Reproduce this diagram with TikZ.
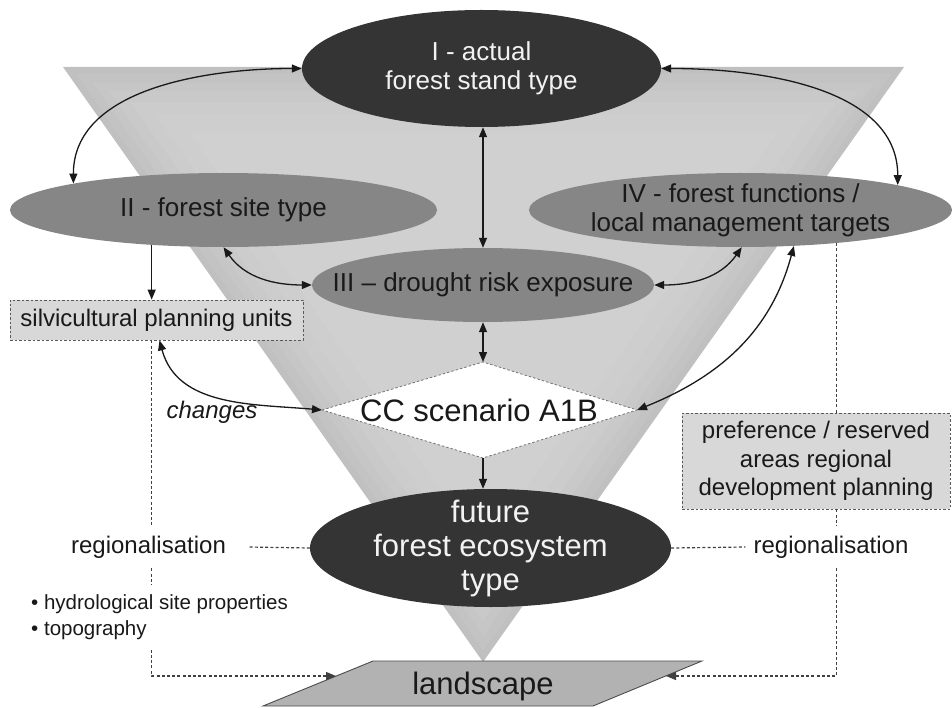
\documentclass[tikz,border=0pt]{standalone}
\usepackage{fontspec}
\setmainfont{Liberation Sans}
\usetikzlibrary{arrows.meta,shapes.geometric,calc}

\definecolor{trigray}{RGB}{192,192,192}
\definecolor{darkell}{RGB}{52,52,52}
\definecolor{midell}{RGB}{134,134,134}
\definecolor{boxgray}{RGB}{216,216,216}
\definecolor{landgray}{RGB}{178,178,178}
\definecolor{ink}{RGB}{25,25,25}
\definecolor{lightink}{RGB}{242,242,242}

\tikzset{
  darkellipse/.style={ellipse, fill=darkell, draw=none, inner sep=0pt},
  midellipse/.style={ellipse, fill=midell, draw=none, inner sep=0pt},
  whitetext/.style={text=lightink, align=center},
  blacktext/.style={text=ink, align=center},
  bigfont/.style={font=\fontsize{26}{29}\selectfont},
  hugefont/.style={font=\fontsize{31}{34}\selectfont},
  smallfont/.style={font=\fontsize{24}{28.5}\selectfont},
  dashbox/.style={rectangle, fill=boxgray, draw=black!65, line width=0.8pt, dash pattern=on 2.5pt off 2pt, inner sep=0pt},
  twoway/.style={{Triangle[length=10pt,width=8pt]}-{Triangle[length=10pt,width=8pt]}, line width=1.3pt, ink},
  oneway/.style={-{Triangle[length=10pt,width=8pt]}, line width=1.3pt, ink},
  dashline/.style={line width=1.2pt, black!75, dash pattern=on 3pt off 2.2pt},
  dasharrow/.style={dashline, -{Triangle[length=10pt,width=8pt]}},
}

\begin{document}
\begin{tikzpicture}[x=1pt,y=-1pt]
\useasboundingbox (0,0) rectangle (952,708);

% funnel in the background, slightly lighter towards its middle
\coordinate (ta) at (63,67);
\coordinate (tb) at (904,67);
\coordinate (tc) at (483,662);
\coordinate (tin) at (483,285);
\fill[trigray] (ta) -- (tb) -- (tc) -- cycle;
\foreach \k/\g in {0.97/195,0.93/198,0.89/201,0.84/204,0.78/206,0.70/208}{
  \definecolor{tone}{RGB}{\g,\g,\g}
  \fill[tone] ($(tin)!\k!(ta)$) -- ($(tin)!\k!(tb)$) -- ($(tin)!\k!(tc)$) -- cycle;
}

% ellipses
\node[darkellipse, minimum width=359pt, minimum height=117pt,
      label={[whitetext,bigfont]center:I - actual\\forest stand type}] (I) at (481.5,68.5) {};
\node[midellipse, minimum width=427pt, minimum height=74pt,
      label={[blacktext,bigfont]center:II - forest site type}] (II) at (223.5,210) {};
\node[midellipse, minimum width=423pt, minimum height=74pt,
      label={[blacktext,bigfont]center:IV - forest functions /\\local management targets}] (IV) at (740.5,210) {};
\node[midellipse, minimum width=342pt, minimum height=74pt,
      label={[blacktext,bigfont]center:III -- drought risk exposure}] (III) at (483,285) {};
\node[darkellipse, minimum width=361pt, minimum height=118pt,
      label={[whitetext,hugefont]center:future\\forest ecosystem\\type}] (F) at (490.5,548) {};

% boxes
\node[dashbox, minimum width=293pt, minimum height=40pt, smallfont, text=ink] (plan) at (156.5,320) {silvicultural planning units};
\node[dashbox, minimum width=268pt, minimum height=96pt, smallfont, text=ink, align=center] (pref) at (816,461) {preference / reserved\\areas regional\\development planning};

% scenario diamond
\coordinate (dleft) at (322,410);
\coordinate (dtop) at (483,362);
\coordinate (dright) at (637,410);
\coordinate (dbot) at (483,458);
\filldraw[fill=white, draw=black!55, line width=0.8pt, dash pattern=on 2.5pt off 2pt] (dleft) -- (dtop) -- (dright) -- (dbot) -- cycle;
\node[hugefont, text=ink] (cc) at (479,410) {CC scenario A1B};

% landscape plane
\coordinate (landL) at (336,676);
\coordinate (landR) at (666,676);
\filldraw[fill=landgray, draw=black!70, line width=0.9pt] (373,661) -- (702,661) -- (593,706) -- (263,706) -- cycle;
\node[hugefont, text=ink] (land) at (483,686) {landscape};

% free labels
\node[smallfont, text=ink, inner xsep=22pt, inner ysep=10pt] (regL) at (148.5,547) {regionalisation};
\node[smallfont, text=ink, inner xsep=8pt, inner ysep=10pt] (regR) at (831,547) {regionalisation};
\node[font=\fontsize{20.5}{26}\selectfont, text=ink, align=left, anchor=west, inner xsep=0pt, inner ysep=10pt] (bul) at (31,617) {• hydrological site properties\\• topography};
\node[text=ink, font=\fontsize{24}{28}\selectfont\itshape] (chg) at (212,412) {changes};

% relations between the four components
\draw[twoway] (I.west) to[out=180,in=90,looseness=0.95] (II.170);
\draw[twoway] (I.east) to[out=0,in=90,looseness=0.95] (IV.9.5);
\draw[twoway] (III.north |- I.south) -- (III.north);
\draw[twoway] (II.south) to[out=-55,in=180] (III.west);
\draw[twoway] (III.east) to[out=0,in=-125] (IV.-88);
\draw[oneway] (II.206) -- (II.206 |- plan.north);

% links to the climate scenario
\draw[twoway] (III.south) -- (dtop);
\draw[twoway] ([xshift=3pt]plan.south) to[out=-75,in=175] (dleft);
\draw[twoway] (IV.-34) to[out=-105,in=22] (dright);
\draw[oneway] (dbot) -- (dbot |- F.north);

% regionalisation paths to the landscape
\draw[dashline] (II.206 |- plan.south) -- (II.206 |- regL.north);
\draw[dashline] (II.206 |- regL.south) -- (II.206 |- bul.north);
\draw[dasharrow] (II.206 |- bul.south) |- (landL);
\draw[dashline] (F.west) -- (regL.east);
\draw[dashline] (IV.-19) -- (IV.-19 |- pref.north);
\draw[dashline] (IV.-19 |- pref.south) -- (IV.-19 |- regR.north);
\draw[dasharrow] (IV.-19 |- regR.south) |- (landR);
\draw[dashline] (F.east) -- (regR.west);
\end{tikzpicture}
\end{document}
